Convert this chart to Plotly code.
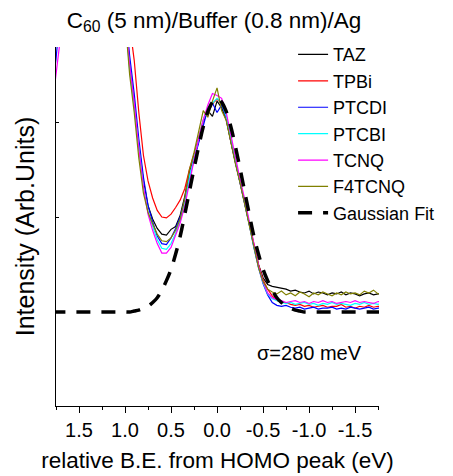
import plotly.graph_objects as go

# relative binding energy grid (eV), shared by all spectra
energy = [
    1.80, 1.75, 1.70, 1.65, 1.60, 1.55, 1.50, 1.45, 1.40, 1.35, 1.30, 1.25,
    1.20, 1.15, 1.10, 1.05, 1.00, 0.95, 0.90, 0.85, 0.80, 0.75, 0.70, 0.65,
    0.60, 0.55, 0.50, 0.45, 0.40, 0.35, 0.30, 0.25, 0.20, 0.15, 0.10, 0.05,
    0.00, -0.05, -0.10, -0.15, -0.20, -0.25, -0.30, -0.35, -0.40, -0.45, -0.50, -0.55,
    -0.60, -0.65, -0.70, -0.75, -0.80, -0.85, -0.90, -0.95, -1.00, -1.05, -1.10, -1.15,
    -1.20, -1.25, -1.30, -1.35, -1.40, -1.45, -1.50, -1.55, -1.60, -1.65, -1.70, -1.75,
    -1.80,
]

taz = [
    2.8, 3.05, 3.4, 3.7, 3.9, 4.05, 4.15, 4.2, 4.2, 4.15, 4.05, 3.95, 3.85, 3.75, 3.65, 3.55, 3.2,
    2.6, 2.2, 1.75, 1.38, 1.12, 0.98, 0.88, 0.82, 0.81, 0.87, 0.9, 1.02, 1.22, 1.48, 1.62, 1.8,
    2.0, 2.12, 2.06, 2.22, 2.15, 2.02, 1.79, 1.57, 1.37, 1.16, 0.93, 0.7, 0.5, 0.36, 0.29, 0.27,
    0.26, 0.25, 0.24, 0.22, 0.23, 0.21, 0.2, 0.22, 0.19, 0.21, 0.2, 0.18, 0.2, 0.19, 0.21, 0.18,
    0.2, 0.19, 0.17, 0.19, 0.2, 0.18, 0.19, 0.19,
]
tpbi = [
    2.9, 3.15, 3.5, 3.8, 4.0, 4.1, 4.2, 4.25, 4.2, 4.15, 4.1, 4.0, 3.9, 3.8, 3.7, 3.6, 3.4,
    3.0, 2.65, 2.1, 1.65, 1.38, 1.2, 1.07, 1.0, 0.99, 1.03, 1.1, 1.18, 1.3, 1.5, 1.66, 1.85,
    2.02, 2.15, 2.2, 2.24, 2.2, 2.04, 1.8, 1.58, 1.38, 1.17, 0.93, 0.7, 0.5, 0.34, 0.24, 0.17,
    0.12, 0.1, 0.1, 0.08, 0.07, 0.08, 0.06, 0.07, 0.05, 0.06, 0.07, 0.05, 0.06, 0.06, 0.08, 0.05,
    0.06, 0.04, 0.06, 0.05, 0.07, 0.05, 0.06, 0.06,
]
ptcdi = [
    2.3, 2.66, 3.2, 3.55, 3.8, 3.95, 4.05, 4.1, 4.1, 4.05, 3.95, 3.85, 3.75, 3.65, 3.55, 3.45, 3.2,
    2.7, 2.3, 1.82, 1.42, 1.12, 0.95, 0.8, 0.72, 0.71, 0.78, 0.88, 1.0, 1.18, 1.42, 1.6, 1.8,
    1.98, 2.14, 2.2, 2.1, 2.18, 2.05, 1.8, 1.58, 1.37, 1.16, 0.92, 0.68, 0.47, 0.3, 0.18, 0.1,
    0.07, 0.06, 0.07, 0.05, 0.04, 0.05, 0.03, 0.04, 0.05, 0.03, 0.04, 0.04, 0.05, 0.03, 0.04, 0.03,
    0.05, 0.04, 0.03, 0.04, 0.05, 0.03, 0.04, 0.04,
]
ptcbi = [
    2.6, 2.9, 3.3, 3.6, 3.85, 4.0, 4.1, 4.15, 4.15, 4.1, 4.0, 3.9, 3.8, 3.7, 3.6, 3.5, 3.15,
    2.55, 2.15, 1.7, 1.32, 1.05, 0.9, 0.76, 0.67, 0.66, 0.72, 0.83, 0.96, 1.15, 1.42, 1.62, 1.83,
    2.02, 2.15, 2.2, 2.25, 2.2, 2.06, 1.82, 1.6, 1.38, 1.17, 0.93, 0.69, 0.48, 0.31, 0.19, 0.14,
    0.12, 0.1, 0.09, 0.1, 0.08, 0.09, 0.1, 0.08, 0.09, 0.07, 0.09, 0.08, 0.1, 0.08, 0.09, 0.08,
    0.07, 0.09, 0.08, 0.1, 0.08, 0.09, 0.08, 0.09,
]
tcnq = [
    2.1, 2.52, 3.0, 3.4, 3.7, 3.9, 4.0, 4.05, 4.05, 4.0, 3.9, 3.8, 3.7, 3.6, 3.5, 3.4, 3.15,
    2.6, 2.2, 1.72, 1.32, 1.03, 0.86, 0.72, 0.62, 0.62, 0.68, 0.8, 0.94, 1.12, 1.38, 1.6, 1.82,
    2.02, 2.18, 2.3, 2.28, 2.25, 2.1, 1.86, 1.62, 1.4, 1.19, 0.95, 0.7, 0.49, 0.32, 0.2, 0.15,
    0.13, 0.12, 0.1, 0.11, 0.12, 0.1, 0.11, 0.09, 0.11, 0.1, 0.12, 0.1, 0.11, 0.09, 0.1, 0.11,
    0.1, 0.12, 0.1, 0.11, 0.1, 0.09, 0.11, 0.1,
]
f4tcnq = [
    2.7, 3.0, 3.35, 3.65, 3.9, 4.05, 4.15, 4.2, 4.2, 4.15, 4.05, 3.95, 3.85, 3.75, 3.65, 3.5, 3.1,
    2.5, 2.1, 1.62, 1.25, 1.05, 0.93, 0.82, 0.75, 0.74, 0.78, 0.86, 0.98, 1.2, 1.5, 1.68, 1.9,
    2.12, 2.05, 2.22, 2.36, 2.12, 2.02, 1.78, 1.56, 1.36, 1.14, 0.9, 0.67, 0.47, 0.32, 0.24, 0.21,
    0.19, 0.22, 0.18, 0.2, 0.17, 0.21, 0.19, 0.16, 0.2, 0.18, 0.21, 0.19, 0.17, 0.2, 0.18, 0.21,
    0.19, 0.2, 0.18, 0.22, 0.2, 0.23, 0.19, 0.2,
]
gauss_fit = [
    0, 0, 0, 0, 0, 0, 0, 0, 0, 0, 0, 0, 0, 0, 0, 0, 0, 0,
    0.01, 0.02, 0.04, 0.06, 0.10, 0.15, 0.23, 0.33, 0.45, 0.61, 0.8, 1.03, 1.27, 1.51, 1.74,
    1.95, 2.11, 2.21, 2.25, 2.21, 2.11, 1.95, 1.74, 1.51, 1.27, 1.03, 0.8, 0.61, 0.45, 0.33,
    0.23, 0.15, 0.10, 0.06, 0.04, 0.02, 0.01,
    0, 0, 0, 0, 0, 0, 0, 0, 0, 0, 0, 0, 0, 0, 0, 0, 0, 0,
]

series_names = ["TAZ", "TPBi", "PTCDI", "PTCBI", "TCNQ", "F4TCNQ"]
series_values = [taz, tpbi, ptcdi, ptcbi, tcnq, f4tcnq]
series_colors = ["#000000", "#ff0000", "#0000ff", "#00ffff", "#ff00ff", "#808000"]

tick_vals = [1.5, 1.0, 0.5, 0.0, -0.5, -1.0, -1.5]
tick_text = ["1.5", "1.0", "0.5", "0.0", "-0.5", "-1.0", "-1.5"]

FONT = "Arial, Liberation Sans, sans-serif"


def build_figure():
    fig = go.Figure()

    for name, values, color in zip(series_names, series_values, series_colors):
        fig.add_trace(
            go.Scatter(
                x=energy,
                y=values,
                mode="lines",
                name=name,
                line=dict(color=color, width=1.2),
            )
        )

    fig.add_trace(
        go.Scatter(
            x=energy,
            y=gauss_fit,
            mode="lines",
            name="Gaussian Fit",
            line=dict(color="black", width=3.5, dash="14px,11px", shape="spline"),
        )
    )

    fig.add_annotation(
        x=-1.0,
        y=-0.43,
        text="σ=280 meV",
        showarrow=False,
        font=dict(family=FONT, size=20, color="black"),
    )

    # page body adds an 8px offset, so the figure is 8px smaller than the window
    fig.update_layout(
        width=445,
        height=468,
        margin=dict(l=48, r=74, t=39, b=70),
        paper_bgcolor="white",
        plot_bgcolor="white",
        font=dict(family=FONT, size=20, color="black"),
        title=dict(
            text="C<sub>60</sub> (5 nm)/Buffer (0.8 nm)/Ag",
            x=0.463,
            xanchor="center",
            y=0.975,
            yanchor="middle",
            font=dict(family=FONT, size=22.5, color="black"),
        ),
        legend=dict(
            x=0.734,
            y=1.03,
            xanchor="left",
            yanchor="top",
            bgcolor="rgba(0,0,0,0)",
            font=dict(family=FONT, size=18, color="black"),
        ),
    )

    fig.update_xaxes(
        range=[1.75, -1.76],
        automargin=False,
        tickmode="array",
        tickvals=tick_vals,
        ticktext=tick_text,
        ticks="outside",
        ticklen=6,
        tickwidth=1,
        tickcolor="black",
        minor=dict(dtick=0.25, tick0=0, ticks="outside", ticklen=3, tickcolor="black"),
        showline=True,
        linecolor="black",
        linewidth=1,
        showgrid=False,
        zeroline=False,
        tickfont=dict(family=FONT, size=20),
        title=dict(
            text="relative B.E. from HOMO peak (eV)",
            font=dict(family=FONT, size=22.5),
            standoff=12,
        ),
    )
    fig.update_yaxes(
        range=[-0.99, 2.79],
        automargin=False,
        dtick=1,
        tick0=0,
        ticks="inside",
        ticklen=3,
        tickcolor="black",
        showticklabels=False,
        showline=True,
        linecolor="black",
        linewidth=1,
        showgrid=False,
        zeroline=False,
        title=dict(text="Intensity (Arb.Units)", font=dict(family=FONT, size=25), standoff=13),
    )

    return fig


fig = build_figure()
fig.write_html("out.html")
